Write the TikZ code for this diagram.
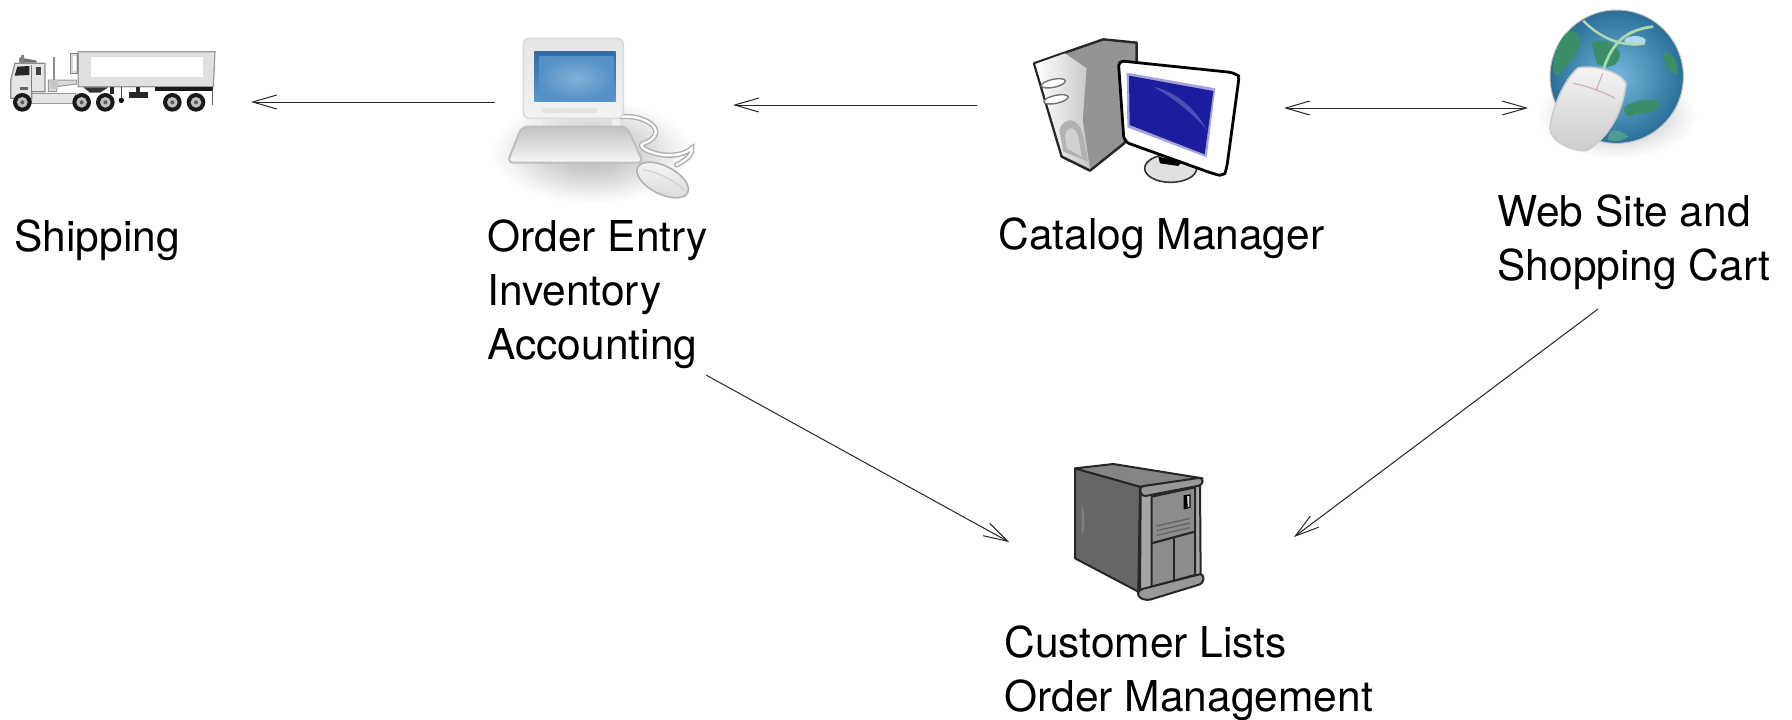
\documentclass[tikz,border=0pt]{standalone}
\usepackage{fontspec}
\setmainfont{TeX Gyre Heros}
\usetikzlibrary{arrows.meta}
\tikzset{
  lbl/.style={anchor=north west,inner sep=0pt,align=left,font=\fontsize{21.25}{27}\selectfont,text=black},
  conn/.style={-{Straight Barb[length=12pt,width=7pt]},line width=0.5pt,draw=black!85},
  connb/.style={{Straight Barb[length=12pt,width=7pt]}-{Straight Barb[length=12pt,width=7pt]},line width=0.5pt,draw=black!85},
  zoomed/.style={shift={#1},scale=1/3},
  sv/.style={draw=black!85,line width=1pt,line join=round},
}
\definecolor{scr}{HTML}{1C1C9E}
\definecolor{lapA}{HTML}{5A97CC}
\definecolor{lapB}{HTML}{2F6CA8}
\definecolor{globeA}{HTML}{74B8DC}
\definecolor{globeB}{HTML}{2A6F98}
\definecolor{land}{HTML}{3A8F68}
\begin{document}
\begin{tikzpicture}[x=0.5pt,y=-0.5pt]
\useasboundingbox (0,0) rectangle (1792,719);

% ---------- Truck
\begin{scope}[zoomed={(0,30)}]
  \fill[black!12,draw=black!40,line width=0.6pt] (235,65) -- (645,65) -- (640,170) -- (235,170) -- cycle;
  \fill[white] (272,80) rectangle (610,140);
  \fill[black!15,draw=black!50,line width=0.6pt] (212,70) rectangle (233,130);
  \fill[white] (218,78) rectangle (228,122);
  % chassis
  \fill[black!90] (465,170) rectangle (640,184);
  \fill[black!80] (250,172) -- (325,172) -- (300,188) -- (270,188) -- cycle;
  \fill[black!85] (330,170) rectangle (342,192);
  \fill[black!85] (388,185) rectangle (445,203);
  \fill[black!85] (408,170) rectangle (420,185);
  \draw[black!75,line width=0.8pt] (364,170) -- (364,210);
  \fill[black] (364,211) circle (8);
  \draw[black!60,line width=0.8pt] (638,180) -- (638,225);
  % frame
  \fill[black!10,draw=black!40,line width=0.5pt] (95,190) -- (225,190) -- (225,220) -- (95,220) -- cycle;
  \fill[black!15,draw=black!40,line width=0.5pt] (145,150) -- (230,150) -- (230,162) -- (170,170) -- (170,185) -- (145,185) -- cycle;
  \fill[black!45] (159,82) rectangle (165,150);
  \fill[black!22] (150,150) rectangle (175,178);
  % cab
  \fill[black!10,draw=black!45,line width=0.6pt] (45,100) -- (135,100) -- (135,185) -- (95,185) -- (95,205) -- (32,205) -- (32,150) -- cycle;
  \fill[black!55] (58,82) -- (110,92) -- (110,98) -- (58,98) -- cycle;
  \fill[black!50] (62,76) rectangle (72,98);
  \fill[black!85] (52,110) -- (88,108) -- (88,135) -- (44,137) -- cycle;
  \fill[black!75] (108,110) rectangle (124,135);
  \draw[black!50,line width=0.5pt] (94,105) -- (94,182);
  \fill[black!60] (60,170) rectangle (85,180);
  % wheels
  \foreach \wx in {67,245,316,517,588}{
    \fill[black!90] (\wx,217) circle (28);
    \fill[black!25] (\wx,217) circle (16);
    \fill[black!65] (\wx,217) circle (6);
  }
\end{scope}

% ---------- Order entry PC
\begin{scope}[zoomed={(480,20)}]
  \shade[inner color=black!32,outer color=white] (335,395) ellipse (300 and 155);
  \fill[black!6] (165,290) rectangle (185,330);
  \fill[black!6] (395,290) rectangle (420,330);
  % cable
  \draw[black!32,line width=2.6pt,line cap=round] (425,290) .. controls (490,285) and (540,320) .. (525,345) .. controls (510,375) and (470,365) .. (490,385) .. controls (530,410) and (600,415) .. (635,385) .. controls (640,400) and (620,420) .. (590,435);
  \draw[white,line width=1.2pt,line cap=round] (425,290) .. controls (490,285) and (540,320) .. (525,345) .. controls (510,375) and (470,365) .. (490,385) .. controls (530,410) and (600,415) .. (635,385) .. controls (640,400) and (620,420) .. (590,435);
  % keyboard
  \shade[top color=black!24,bottom color=black!3,draw=black!25,line width=1pt,rounded corners=3pt] (125,320) -- (440,320) -- (490,428) -- (82,428) -- cycle;
  % monitor
  \shade[top color=black!10,bottom color=black!5,draw=black!14,line width=0.8pt,rounded corners=3pt] (130,55) -- (430,55) -- (430,295) -- (130,295) -- cycle;
  \fill[black!11] (185,265) rectangle (350,278);
  \shade[top color=lapB,bottom color=lapA] (163,93) rectangle (407,245);
  \shade[inner color=lapA!75!white,outer color=lapA!85!lapB] (178,108) rectangle (400,240);
  % mouse
  \begin{scope}[rotate around={-27:(548,480)}]
    \shade[top color=black!4,bottom color=black!14,draw=black!30,line width=0.8pt] (548,480) ellipse (84 and 42);
    \draw[black!20,line width=0.5pt] (480,480) .. controls (520,465) and (580,465) .. (620,478);
  \end{scope}
\end{scope}

% ---------- Catalog PC
\begin{scope}[zoomed={(1010,20)}]
  % tower
  \fill[black!42,sv,line width=1.2pt] (72,130) -- (280,58) -- (380,68) -- (380,330) -- (340,372) -- (240,452) -- (155,410) -- cycle;
  \shade[left color=white,right color=black!22] (76,132) -- (165,100) -- (230,145) -- (218,300) -- (240,446) -- (158,406) -- cycle;
  \fill[white,draw=black!55,line width=0.7pt,rotate around={12:(130,190)}] (130,190) ellipse (37 and 12);
  \fill[white,draw=black!55,line width=0.7pt,rotate around={12:(138,238)}] (138,238) ellipse (37 and 12);
  \fill[black!30] (148,330) .. controls (165,285) and (205,295) .. (218,340) -- (235,425) -- (160,395) -- cycle;
  \fill[black!18] (165,345) .. controls (175,315) and (195,320) .. (205,350) -- (215,410) -- (170,385) -- cycle;
  % stand
  \fill[black!12,draw=black!80,line width=0.8pt] (482,445) ellipse (78 and 42);
  \fill[black] (445,410) -- (515,425) -- (505,438) -- (450,430) -- cycle;
  % monitor
  \fill[white,draw=black,line width=1.4pt,line join=round,rounded corners=3pt] (325,122) -- (672,158) .. controls (682,165) and (686,180) .. (684,195) -- (650,445) .. controls (645,460) and (630,466) .. (612,462) -- (342,365) -- cycle;
  \fill[scr!40] (350,158) -- (616,205) -- (590,412) -- (352,322) -- cycle;
  \fill[scr] (357,167) -- (610,213) -- (584,403) -- (359,315) -- cycle;
  \fill[scr!78!white] (430,200) .. controls (500,215) and (560,270) .. (590,330) .. controls (550,280) and (490,235) .. (430,200) -- cycle;
\end{scope}

% ---------- Globe and mouse
\begin{scope}[zoomed={(1520,0)}]
  \shade[inner color=black!30,outer color=white] (290,345) ellipse (240 and 130);
  \shade[inner color=globeA,outer color=globeB,draw=black!25,line width=0.5pt] (290,230) circle (200);
  % continents
  \fill[land] (110,150) .. controls (130,90) and (160,80) .. (180,110) .. controls (185,150) and (150,190) .. (110,230) .. controls (90,210) and (100,180) .. (110,150) -- cycle;
  \fill[land] (215,130) .. controls (250,110) and (290,130) .. (300,160) .. controls (300,200) and (260,210) .. (230,190) -- cycle;
  \fill[land] (430,155) .. controls (460,160) and (480,190) .. (470,225) .. controls (450,220) and (425,190) .. (430,155) -- cycle;
  \fill[land] (315,320) .. controls (340,300) and (400,290) .. (420,310) .. controls (420,335) and (370,345) .. (345,340) .. controls (325,362) and (305,340) .. (315,320) -- cycle;
  \fill[land!65!globeA] (270,395) .. controls (290,385) and (310,395) .. (325,410) .. controls (300,425) and (280,425) .. (262,420) -- cycle;
  \fill[globeA!55!white] (345,122) ellipse (32 and 14);
  % cables
  \draw[green!18!white!85!black,line width=1.2pt] (190,62) .. controls (230,105) and (300,145) .. (375,130);
  \draw[green!22!white!85!black,line width=1.4pt] (250,208) .. controls (270,150) and (300,90) .. (400,80);
  % mouse
  \shade[top color=black!4,bottom color=black!20,draw=black!20,line width=0.8pt] (175,203) .. controls (230,195) and (300,215) .. (318,250) .. controls (310,330) and (270,410) .. (200,452) .. controls (150,455) and (90,420) .. (90,385) .. controls (95,330) and (130,240) .. (175,203) -- cycle;
  \draw[red!40!black!30,line width=0.6pt] (158,250) .. controls (195,255) and (260,280) .. (285,295);
  \draw[red!40!black!30,line width=0.6pt] (248,220) -- (228,272);
\end{scope}

% ---------- Server
\begin{scope}[zoomed={(1050,450)}]
  \fill[black!60,sv] (75,55) -- (270,110) -- (265,425) -- (75,325) -- cycle;
  \fill[black!48,sv] (75,55) -- (190,42) -- (458,85) -- (270,110) -- cycle;
  \fill[black!50] (95,165) .. controls (105,190) and (105,230) .. (98,250) -- (95,250) -- cycle;
  \fill[black!35,sv] (272,125) -- (450,95) -- (452,385) -- (270,430) -- cycle;
  \fill[black!45,sv] (305,140) -- (435,112) -- (435,245) -- (305,280) -- cycle;
  \fill[black!45,sv] (305,280) -- (435,245) -- (435,375) -- (305,410) -- cycle;
  \draw[sv] (373,263) -- (373,392);
  \draw[black!60,line width=0.7pt] (320,228) -- (420,205) (320,242) -- (420,219) (320,256) -- (420,233);
  \fill[black!15,draw=black,line width=0.6pt] (403,137) -- (420,135) -- (420,172) -- (403,176) -- cycle;
  \fill[black] (403,137) -- (411,136) -- (413,172) -- (403,176) -- cycle;
  \fill[black!40,sv,rounded corners=2pt] (268,110) -- (458,82) -- (458,105) -- (275,140) -- cycle;
  \fill[black!40,sv,rounded corners=2pt] (265,420) -- (460,370) -- (460,400) -- (290,452) -- (262,440) -- cycle;
\end{scope}

% ---------- Labels
\node[lbl] (ship) at (14,219) {Shipping};
\node[lbl] (order) at (487,219) {Order Entry\\Inventory\\Accounting};
\node[lbl] (catalog) at (998,217) {Catalog Manager};
\node[lbl] (web) at (1497,194) {Web Site and\\Shopping Cart};
\node[lbl] (cust) at (1004,625) {Customer Lists\\Order Management};

% ---------- Connector ends
\coordinate (a1) at (495,102);
\coordinate (a2) at (251,102);
\coordinate (b1) at (977,105);
\coordinate (b2) at (733,105);
\coordinate (c1) at (1284,108);
\coordinate (c2) at (1528,108);
\coordinate (d1) at (706,375);
\coordinate (d2) at (1009,542);
\coordinate (e1) at (1598,309);
\coordinate (e2) at (1294,537);
\draw[conn] (a1) -- (a2);
\draw[conn] (b1) -- (b2);
\draw[connb] (c1) -- (c2);
\draw[conn] (d1) -- (d2);
\draw[conn] (e1) -- (e2);
\end{tikzpicture}
\end{document}
